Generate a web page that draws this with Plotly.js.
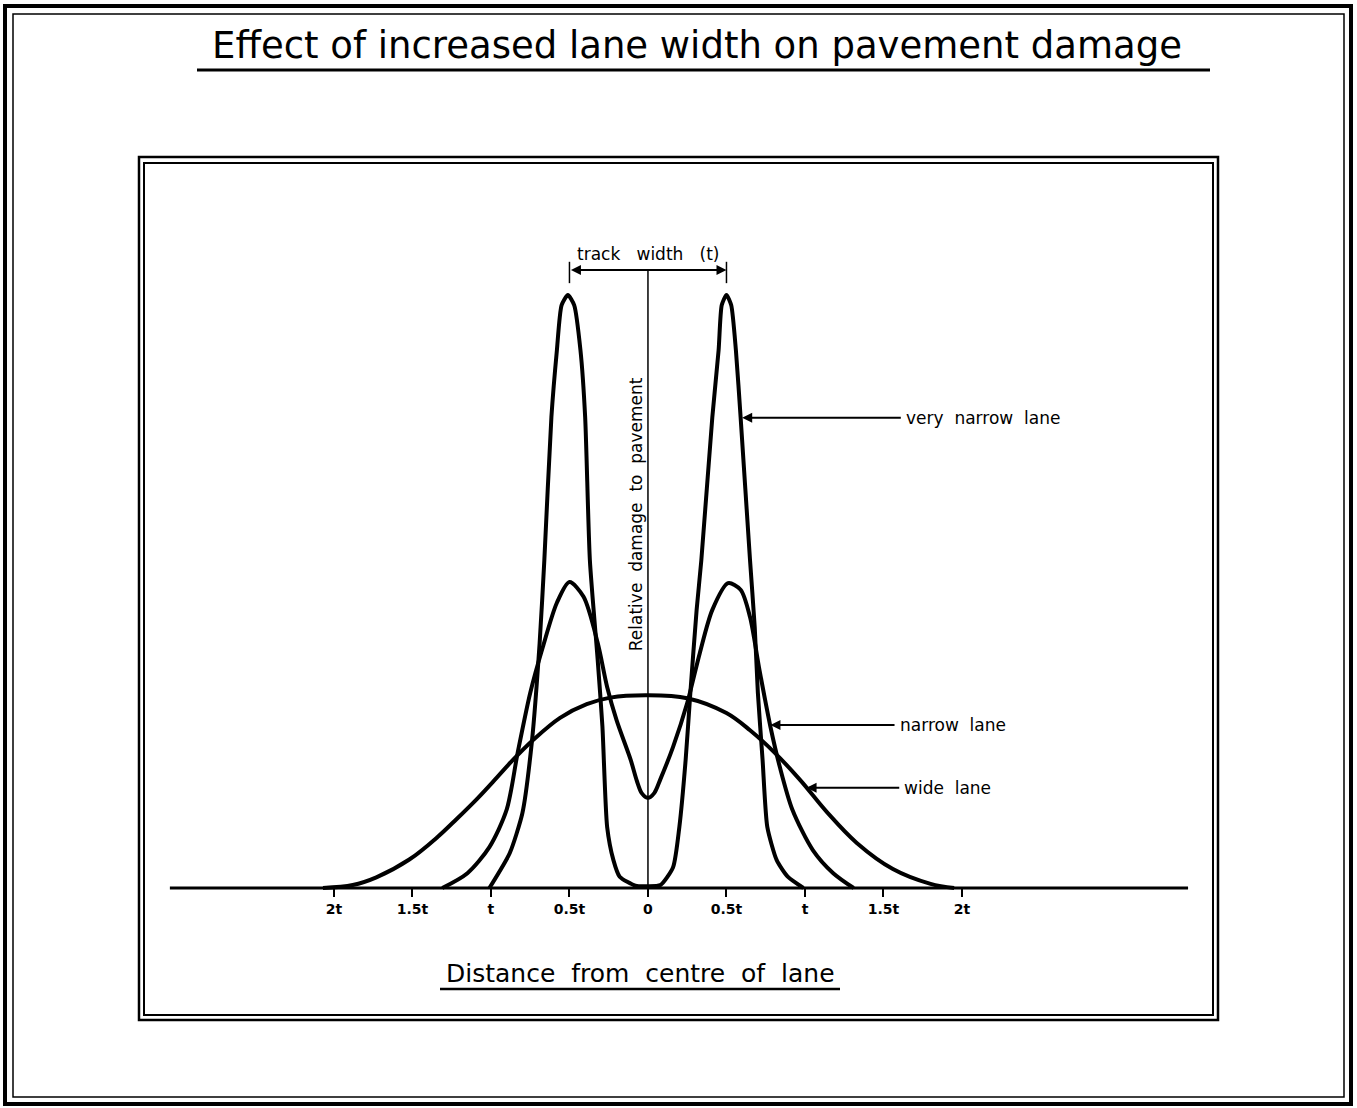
<!DOCTYPE html>
<html>
<head>
<meta charset="utf-8">
<script src="https://cdn.plot.ly/plotly-3.0.1.min.js"></script>
<style>html,body{margin:0;padding:0;background:#fff;}#chart{width:1357px;height:1108px;}</style>
</head>
<body>
<div id="chart"></div>
<script>
// Distance from centre of lane, in units of track width t
const wideX = [-2.07, -1.88, -1.73, -1.52, -1.34, -1.22, -1.09, -0.96, -0.86, -0.73, -0.56, -0.39, -0.24, 0.0, 0.25, 0.50, 0.65, 0.80, 0.97, 1.14, 1.33, 1.56, 1.80, 1.95];
const wideY = [0.0, 0.05, 0.18, 0.48, 0.86, 1.16, 1.50, 1.87, 2.16, 2.50, 2.87, 3.10, 3.21, 3.25, 3.20, 2.95, 2.66, 2.30, 1.82, 1.28, 0.76, 0.32, 0.07, 0.0];

const narrowX = [-1.31, -1.15, -1.01, -0.90, -0.83, -0.75, -0.67, -0.58, -0.50, -0.41, -0.32, -0.26, -0.20, -0.11, -0.07, -0.04, 0.0, 0.04, 0.08, 0.16, 0.25, 0.33, 0.41, 0.51, 0.59, 0.65, 0.71, 0.78, 0.84, 0.92, 1.05, 1.18, 1.31];
const narrowY = [0.0, 0.25, 0.69, 1.32, 2.28, 3.29, 4.06, 4.81, 5.16, 4.91, 4.13, 3.39, 2.83, 2.16, 1.80, 1.60, 1.52, 1.60, 1.84, 2.38, 3.12, 3.96, 4.69, 5.14, 5.03, 4.57, 3.68, 2.72, 2.04, 1.32, 0.64, 0.25, 0.0];

const veryNarrowX = [-1.01, -0.88, -0.80, -0.74, -0.69, -0.66, -0.615, -0.58, -0.55, -0.51, -0.47, -0.43, -0.40, -0.37, -0.32, -0.29, -0.26, -0.22, -0.18, -0.08, 0.0, 0.08, 0.16, 0.20, 0.24, 0.27, 0.31, 0.34, 0.41, 0.45, 0.47, 0.50, 0.53, 0.56, 0.59, 0.65, 0.68, 0.70, 0.73, 0.76, 0.82, 0.89, 0.99];
const veryNarrowY = [0.0, 0.59, 1.26, 2.45, 4.13, 5.53, 7.94, 9.07, 9.83, 10.0, 9.83, 9.07, 7.94, 5.53, 3.84, 2.72, 1.03, 0.47, 0.19, 0.04, 0.03, 0.05, 0.35, 1.03, 2.16, 3.29, 4.69, 5.53, 7.94, 9.07, 9.83, 10.0, 9.83, 9.07, 7.94, 5.53, 4.40, 3.29, 2.16, 1.03, 0.47, 0.19, 0.0];

const tickVals = [-2, -1.5, -1, -0.5, 0, 0.5, 1, 1.5, 2];
const tickText = ['2t', '1.5t', 't', '0.5t', '0', '0.5t', 't', '1.5t', '2t'];

const seriesNames = ['wide lane', 'narrow lane', 'very narrow lane'];
const trackLabel = 'track width (t)';
const chartTitle = 'Effect of increased lane width on pavement damage';
const xTitle = 'Distance from centre of lane';
const yTitle = 'Relative damage to pavement';

// ---- layout helpers (pixel -> paper) ----
const W = 1357, H = 1108;
const px = x => x / W;
const py = y => 1 - y / H;
const FONT = 'DejaVu Sans, sans-serif';
// widen word gaps like the hand lettering
const spaced = (s, n) => s.split(' ').join('\u00a0'.repeat(n));

function rectPx(x0, y0, x1, y1, w) {
  return {type: 'rect', xref: 'paper', yref: 'paper', x0: px(x0), x1: px(x1), y0: py(y1), y1: py(y0),
          line: {color: 'black', width: w}, fillcolor: 'rgba(0,0,0,0)'};
}
function hlinePx(x0, x1, y, w) {
  return {type: 'line', xref: 'paper', yref: 'paper', x0: px(x0), x1: px(x1), y0: py(y), y1: py(y),
          line: {color: 'black', width: w}};
}

const traces = [
  {x: wideX, y: wideY, name: seriesNames[0], mode: 'lines', line: {color: 'black', width: 4, shape: 'spline', smoothing: 1}, hoverinfo: 'skip'},
  {x: narrowX, y: narrowY, name: seriesNames[1], mode: 'lines', line: {color: 'black', width: 4, shape: 'spline', smoothing: 0.8}, hoverinfo: 'skip'},
  {x: veryNarrowX, y: veryNarrowY, name: seriesNames[2], mode: 'lines', line: {color: 'black', width: 4, shape: 'spline', smoothing: 0.6}, hoverinfo: 'skip'}
];

const yTop = 10.42;
const shapes = [
  // outer page frame
  rectPx(5, 6, 1351, 1104, 4),
  rectPx(13, 14, 1344, 1097, 1.5),
  // chart frame (double line)
  rectPx(139, 157, 1218, 1020, 2.5),
  rectPx(144, 163, 1213, 1015, 2),
  // title underline
  hlinePx(197, 1210, 70, 3),
  // x title underline
  hlinePx(440, 840, 989, 2.5),
  // baseline axis
  {type: 'line', xref: 'x', yref: 'y', x0: -3.045, x1: 3.44, y0: 0, y1: 0, line: {color: 'black', width: 3}},
  // vertical centre line
  {type: 'line', xref: 'x', yref: 'y', x0: 0, x1: 0, y0: 0, y1: yTop, line: {color: 'black', width: 1.5}},
  // track width end caps
  {type: 'line', xref: 'x', yref: 'y', x0: -0.5, x1: -0.5, y0: 10.20, y1: 10.56, line: {color: 'black', width: 1.5}},
  {type: 'line', xref: 'x', yref: 'y', x0: 0.5, x1: 0.5, y0: 10.20, y1: 10.56, line: {color: 'black', width: 1.5}}
];

function arrowAnn(hx, hy, tx, ty) {
  return {x: hx, y: hy, ax: tx, ay: ty, xref: 'x', yref: 'y', axref: 'x', ayref: 'y', text: '',
          showarrow: true, arrowhead: 2, arrowsize: 1, arrowwidth: 2, arrowcolor: 'black'};
}
function labelAnn(x, y, text) {
  return {x: x, y: y, xref: 'x', yref: 'y', text: spaced(text, 2), showarrow: false, xanchor: 'left', yanchor: 'middle',
          font: {family: FONT, size: 17, color: 'black'}};
}

const annotations = [
  arrowAnn(0.60, 7.93, 1.62, 7.93),
  labelAnn(1.63, 7.93, seriesNames[2]),
  arrowAnn(0.78, 2.75, 1.58, 2.75),
  labelAnn(1.59, 2.75, seriesNames[1]),
  arrowAnn(1.01, 1.69, 1.61, 1.69),
  labelAnn(1.62, 1.69, seriesNames[0]),
  // track width dimension arrow
  {x: 0.5, y: yTop, ax: -0.5, ay: yTop, xref: 'x', yref: 'y', axref: 'x', ayref: 'y', text: '',
   showarrow: true, arrowhead: 2, arrowside: 'end+start', arrowsize: 1, arrowwidth: 2, arrowcolor: 'black'},
  {x: 0, y: 10.70, xref: 'x', yref: 'y', text: spaced(trackLabel, 3), showarrow: false, xanchor: 'center', yanchor: 'middle',
   font: {family: FONT, size: 17, color: 'black'}},
  // y title along the centre line
  {x: -0.08, y: 6.31, xref: 'x', yref: 'y', text: spaced(yTitle, 2), textangle: -90, showarrow: false,
   xanchor: 'center', yanchor: 'middle', font: {family: FONT, size: 17, color: 'black'}},
  // x title
  {x: px(640), y: py(974), xref: 'paper', yref: 'paper', text: spaced(xTitle, 2), showarrow: false,
   xanchor: 'center', yanchor: 'middle', font: {family: FONT, size: 25, color: 'black'}}
];

const layout = {
  width: W, height: H,
  margin: {l: 0, r: 0, t: 0, b: 0, pad: 0},
  paper_bgcolor: 'white', plot_bgcolor: 'white',
  showlegend: false,
  title: {text: chartTitle, x: px(697), y: py(45), xref: 'paper', yref: 'container', xanchor: 'center', yanchor: 'middle',
          font: {family: FONT, size: 37, color: 'black'}},
  xaxis: {range: [-4.127, 4.516], showgrid: false, zeroline: false, showline: false,
          anchor: 'free', position: 220 / H,
          tickmode: 'array', tickvals: tickVals, ticktext: tickText,
          ticks: 'outside', ticklen: 8, tickwidth: 2, tickcolor: 'black',
          tickfont: {family: FONT, size: 14, color: 'black', weight: 'bold'}, fixedrange: true},
  yaxis: {range: [-3.710, 14.975], showgrid: false, zeroline: false, showline: false,
          showticklabels: false, ticks: '', fixedrange: true},
  shapes: shapes,
  annotations: annotations
};

Plotly.newPlot('chart', traces, layout, {displayModeBar: false, staticPlot: true});
</script>
</body>
</html>
